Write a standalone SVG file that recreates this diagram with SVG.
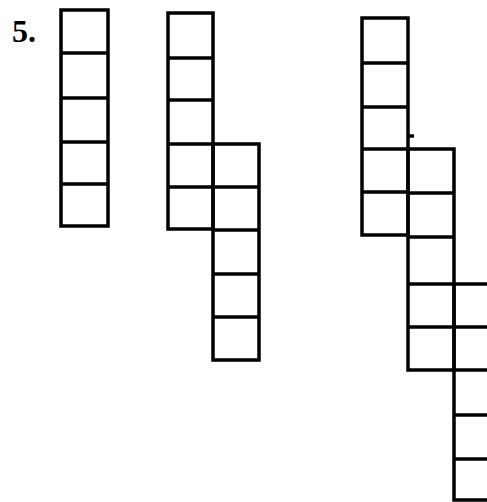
<svg xmlns="http://www.w3.org/2000/svg" width="487" height="502" viewBox="0 0 487 502">
<style>
.c{fill:none;stroke:#000;stroke-width:3.5;stroke-linejoin:miter}
.l{stroke:#000;stroke-width:3.5}
.t{font-family:"Liberation Serif",serif;font-weight:bold;font-size:32px;fill:#000}
</style>
<rect width="487" height="502" fill="#fff"/>
<text class="t" x="12" y="42">5.</text>
<g id="strip1">
<rect class="c" x="61" y="10" width="47" height="216"/>
<line class="l" x1="61" y1="53" x2="108" y2="53"/>
<line class="l" x1="61" y1="98" x2="108" y2="98"/>
<line class="l" x1="61" y1="142" x2="108" y2="142"/>
<line class="l" x1="61" y1="184" x2="108" y2="184"/>
</g>
<g id="strip2">
<rect class="c" x="168" y="13" width="45" height="216"/>
<line class="l" x1="168" y1="58" x2="213" y2="58"/>
<line class="l" x1="168" y1="100" x2="213" y2="100"/>
<line class="l" x1="168" y1="144" x2="213" y2="144"/>
<line class="l" x1="168" y1="187" x2="213" y2="187"/>
<rect class="c" x="213" y="144" width="46" height="216"/>
<line class="l" x1="213" y1="187" x2="259" y2="187"/>
<line class="l" x1="213" y1="230" x2="259" y2="230"/>
<line class="l" x1="213" y1="274" x2="259" y2="274"/>
<line class="l" x1="213" y1="317" x2="259" y2="317"/>
</g>
<g id="strip3">
<rect class="c" x="362" y="18" width="46" height="217"/>
<line class="l" x1="362" y1="63" x2="408" y2="63"/>
<line class="l" x1="362" y1="107" x2="408" y2="107"/>
<line class="l" x1="362" y1="149" x2="408" y2="149"/>
<line class="l" x1="362" y1="192" x2="408" y2="192"/>
<line class="l" x1="408" y1="136" x2="414" y2="136"/>
<rect class="c" x="408" y="149" width="46" height="221"/>
<line class="l" x1="408" y1="193" x2="454" y2="193"/>
<line class="l" x1="408" y1="237" x2="454" y2="237"/>
<line class="l" x1="408" y1="284" x2="454" y2="284"/>
<line class="l" x1="408" y1="327" x2="454" y2="327"/>
<rect class="c" x="454" y="284" width="45" height="216"/>
<line class="l" x1="454" y1="327" x2="499" y2="327"/>
<line class="l" x1="454" y1="370" x2="499" y2="370"/>
<line class="l" x1="454" y1="415" x2="499" y2="415"/>
<line class="l" x1="454" y1="459" x2="499" y2="459"/>
</g>
</svg>
